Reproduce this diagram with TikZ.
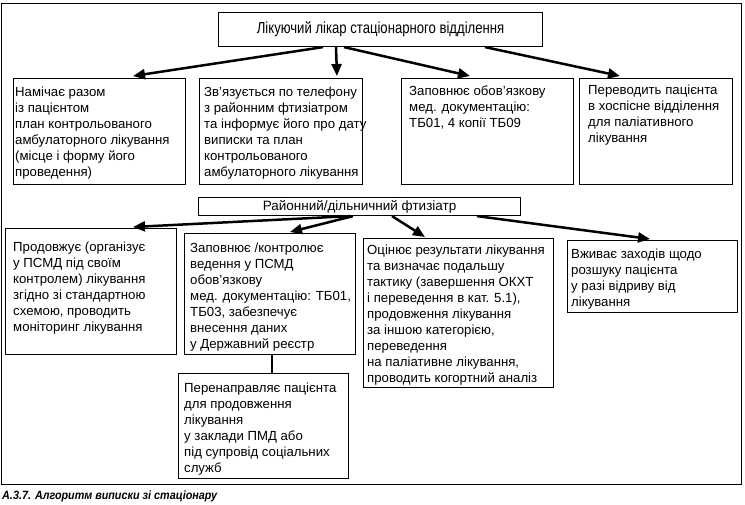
\documentclass[tikz,border=0pt]{standalone}
\usepackage{fontspec}
\setmainfont{Liberation Sans}
\newfontfamily\hdfont[FakeStretch=0.82]{Liberation Sans}
\newfontfamily\capfont[FakeStretch=0.9]{Liberation Sans}
\usetikzlibrary{arrows.meta,calc}
\begin{document}
\begin{tikzpicture}[x=1pt,y=-1pt,
  box/.style={draw, line width=1.1pt, anchor=north west, inner sep=0pt},
  txt/.style={anchor=base west, inner sep=0pt, font=\fontsize{13.2}{16}\selectfont},
  arr/.style={line width=2.5pt, -{Triangle[length=12pt,width=10pt]}},
  thin/.style={line width=1.1pt}]
\useasboundingbox (0,0) rectangle (745,504);
\draw[thin] (1.5,3.5) rectangle (741.8,484.5);

% top header
\node[box, minimum width=324pt, minimum height=34pt, font=\hdfont\fontsize{16}{19}\selectfont] (T) at (218,12) {Лікуючий лікар стаціонарного відділення};

% row 1
\node[box, minimum width=172pt, minimum height=106pt] (b1) at (13,78) {};
\node[txt] (b1t) at ($(b1.north west)+(2,18.5)$) {\parbox[t]{300pt}{Намічає разом\\із пацієнтом\\план контрольованого\\амбулаторного лікування\\(місце і форму його\\проведення)}};
\node[box, minimum width=163pt, minimum height=106pt] (b2) at (199,78) {};
\node[txt] (b2t) at ($(b2.north west)+(5,18.5)$) {\parbox[t]{300pt}{Зв'язується по телефону\\з районним фтизіатром\\та інформує його про дату\\виписки та план\\контрольованого\\амбулаторного лікування}};
\node[box, minimum width=172pt, minimum height=106pt] (b3) at (401,78) {};
\node[txt] (b3t) at ($(b3.north west)+(8,17)$) {\parbox[t]{300pt}{Заповнює обов'язкову\\мед. документацію:\\ТБ01, 4 копії ТБ09}};
\node[box, minimum width=153pt, minimum height=106pt] (b4) at (579,78) {};
\node[txt] (b4t) at ($(b4.north west)+(9,16)$) {\parbox[t]{300pt}{Переводить пацієнта\\в хоспісне відділення\\для паліативного\\лікування}};

% second header
\node[box, minimum width=322pt, minimum height=18pt, font=\fontsize{13.5}{15}\selectfont] (H) at (198,197) {Районний/дільничний фтизіатр};

% row 2
\node[box, minimum width=171pt, minimum height=126pt] (A) at (5,228) {};
\node[txt] (At) at ($(A.north west)+(8,23)$) {\parbox[t]{300pt}{Продовжує (організує\\у ПСМД під своїм\\контролем) лікування\\згідно зі стандартною\\схемою, проводить\\моніторинг лікування}};
\node[box, minimum width=171pt, minimum height=121pt] (B) at (184,233) {};
\node[txt] (Bt) at ($(B.north west)+(6,19)$) {\parbox[t]{300pt}{Заповнює /контролює\\ведення у ПСМД\\обов'язкову\\мед. документацію: ТБ01,\\ТБ03, забезпечує\\внесення даних\\у Державний реєстр}};
\node[box, minimum width=190pt, minimum height=149pt] (C) at (363,238) {};
\node[txt] (Ct) at ($(C.north west)+(4,16)$) {\parbox[t]{300pt}{Оцінює результати лікування\\та визначає подальшу\\тактику (завершення ОКХТ\\і переведення в кат. 5.1),\\продовження лікування\\за іншою категорією,\\переведення\\на паліативне лікування,\\проводить когортний аналіз}};
\node[box, minimum width=170pt, minimum height=72pt] (D) at (567,240) {};
\node[txt] (Dt) at ($(D.north west)+(4,18)$) {\parbox[t]{300pt}{Вживає заходів щодо\\розшуку пацієнта\\у разі відриву від\\лікування}};
\node[box, minimum width=170pt, minimum height=105pt] (E) at (178,373) {};
\node[txt] (Et) at ($(E.north west)+(6,19)$) {\parbox[t]{300pt}{Перенаправляє пацієнта\\для продовження\\лікування\\у заклади ПМД або\\під супровід соціальних\\служб}};

% caption
\node[anchor=base west, inner sep=0pt, font=\capfont\bfseries\itshape\fontsize{12}{14}\selectfont] (cap) at (2,499) {А.3.7. Алгоритм виписки зі стаціонару};

% arrows from top header
\draw[arr] ([xshift=105pt]T.south west) -- ([xshift=120pt,yshift=2pt]b1.north west);
\draw[arr] ([xshift=118pt]T.south west) -- ([xshift=138pt,yshift=2pt]b2.north west);
\draw[arr] ([xshift=126pt]T.south west) -- ([xshift=69pt,yshift=2pt]b3.north west);
\draw[arr] ([xshift=267pt]T.south west) -- ([xshift=41pt,yshift=2pt]b4.north west);

% arrows from second header
\draw[arr] ([xshift=152pt]H.south west) -- ([xshift=128pt,yshift=1pt]A.north west);
\draw[arr] ([xshift=155pt]H.south west) -- ([xshift=106pt,yshift=1pt]B.north west);
\draw[arr] ([xshift=194pt]H.south west) -- ([xshift=62pt,yshift=1pt]C.north west);
\draw[arr] ([xshift=279pt]H.south west) -- ([xshift=83pt,yshift=1pt]D.north west);

\draw[thin] ([xshift=88pt]B.south west) -- ([xshift=94pt]E.north west);
\end{tikzpicture}
\end{document}
